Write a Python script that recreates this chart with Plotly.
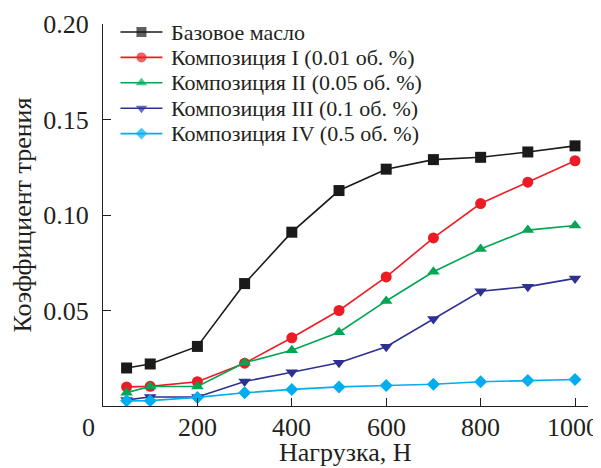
import plotly.graph_objects as go

loads = [50, 100, 200, 300, 400, 500, 600, 700, 800, 900, 1000]
base_oil = [0.0199, 0.0220, 0.0312, 0.0641, 0.0910, 0.1128, 0.1240, 0.1290, 0.1302, 0.1330, 0.1362]
comp_1 = [0.0100, 0.0103, 0.0127, 0.0224, 0.0357, 0.0500, 0.0676, 0.0880, 0.1060, 0.1172, 0.1284]
comp_2 = [0.0070, 0.0102, 0.0102, 0.0226, 0.0292, 0.0386, 0.0550, 0.0703, 0.0822, 0.0921, 0.0945]
comp_3 = [0.0032, 0.0047, 0.0047, 0.0128, 0.0177, 0.0226, 0.0310, 0.0455, 0.0601, 0.0625, 0.0668]
comp_4 = [0.0027, 0.0028, 0.0045, 0.0069, 0.0087, 0.0100, 0.0107, 0.0114, 0.0127, 0.0134, 0.0139]

names = ["Базовое масло", "Композиция I (0.01 об. %)", "Композиция II (0.05 об. %)",
         "Композиция III (0.1 об. %)", "Композиция IV (0.5 об. %)"]
series = [base_oil, comp_1, comp_2, comp_3, comp_4]
colors = ["#1a1a1a", "#ed1c24", "#00a651", "#2e3192", "#00aeef"]
symbols = ["square", "circle", "triangle-up", "triangle-down", "diamond"]
sizes = [11, 11, 11, 11, 10]

x_ticks = [0, 200, 400, 600, 800, 1000]
y_ticks = [0.05, 0.10, 0.15, 0.20]
x_title = "Нагрузка, Н"
y_title = "Коэффициент трения"

FONT = "'Liberation Serif', 'Times New Roman', serif"
INK = "#231f20"

# page body has an 8px margin: the figure is placed at (8, 8)
OFF = 8
W, H = 601 - OFF, 468 - OFF
PL, PR, PT, PB = 102.5, 588, 24, 406          # plot area in screen px
ml, mr, mt, mb = PL - OFF, (W + OFF) - PR, PT - OFF, (H + OFF) - PB
PW, PH = PR - PL, PB - PT


def px_x(x):
    return (x - PL) / PW


def px_y(y):
    return (PB - y) / PH


fig = go.Figure()
for n, s, c, sym, sz in zip(names, series, colors, symbols, sizes):
    fig.add_trace(go.Scatter(
        x=loads, y=s, name=n, mode="lines+markers", showlegend=False,
        line=dict(color=c, width=1.6),
        marker=dict(symbol=sym, size=sz, color=c, line=dict(width=0)),
    ))

# manual legend (symbols on an overlay axis in plot-area fractions)
leg_y0, leg_dy = 32.0, 25.4
for i, (n, c, sym, sz) in enumerate(zip(names, colors, symbols, sizes)):
    yy = px_y(leg_y0 + leg_dy * i)
    fig.add_trace(go.Scatter(
        x=[px_x(120), px_x(141), px_x(162)], y=[yy, yy, yy],
        xaxis="x2", yaxis="y2", mode="lines+markers", showlegend=False,
        hoverinfo="skip",
        line=dict(color=c, width=1.6),
        marker=dict(symbol=sym, size=[0, sz - 1, 0], color=c, line=dict(width=0)),
    ))
    fig.add_annotation(
        text=n, xref="paper", yref="paper", x=px_x(169), y=yy,
        xanchor="left", yanchor="middle", showarrow=False,
        font=dict(family=FONT, size=22, color=INK),
    )

fig.update_layout(
    width=W, height=H,
    margin=dict(l=ml, r=mr, t=mt, b=mb, pad=0),
    paper_bgcolor="white", plot_bgcolor="white",
    font=dict(family=FONT, size=26, color=INK),
    showlegend=False,
    xaxis=dict(
        range=[0, 1027.5], tickvals=x_ticks[1:], showticklabels=False,
        ticks="inside", ticklen=8, tickwidth=1.2, tickcolor=INK,
        showline=True, linecolor=INK, linewidth=1.3, showgrid=False, zeroline=False,
        automargin=False,
    ),
    yaxis=dict(
        range=[0, 0.2], tickvals=y_ticks, ticktext=["%.2f" % v for v in y_ticks],
        ticks="inside", ticklen=8, tickwidth=1.2, tickcolor=INK,
        tickfont=dict(family=FONT, size=26, color=INK),
        showline=True, linecolor=INK, linewidth=1.3, showgrid=False, zeroline=False,
        title=dict(text=y_title, font=dict(family=FONT, size=26, color=INK), standoff=12),
        ticklabelstandoff=8, automargin=False,
    ),
    xaxis2=dict(overlaying="x", range=[0, 1], visible=False, fixedrange=True),
    yaxis2=dict(overlaying="y", range=[0, 1], visible=False, fixedrange=True),
)

# x tick labels placed on the x scale ("0" sits left of the origin as in the original)
for v in x_ticks:
    fig.add_annotation(
        text=str(v), xref="x", yref="paper", x=v, y=px_y(428),
        xshift=-15 if v == 0 else (-2 if v == 1000 else 0),
        xanchor="center", yanchor="middle", showarrow=False,
        font=dict(family=FONT, size=26, color=INK),
    )
fig.add_annotation(
    text=x_title, xref="paper", yref="paper", x=px_x(345), y=px_y(452),
    xanchor="center", yanchor="middle", showarrow=False,
    font=dict(family=FONT, size=26, color=INK),
)
fig.write_html("out.html")
